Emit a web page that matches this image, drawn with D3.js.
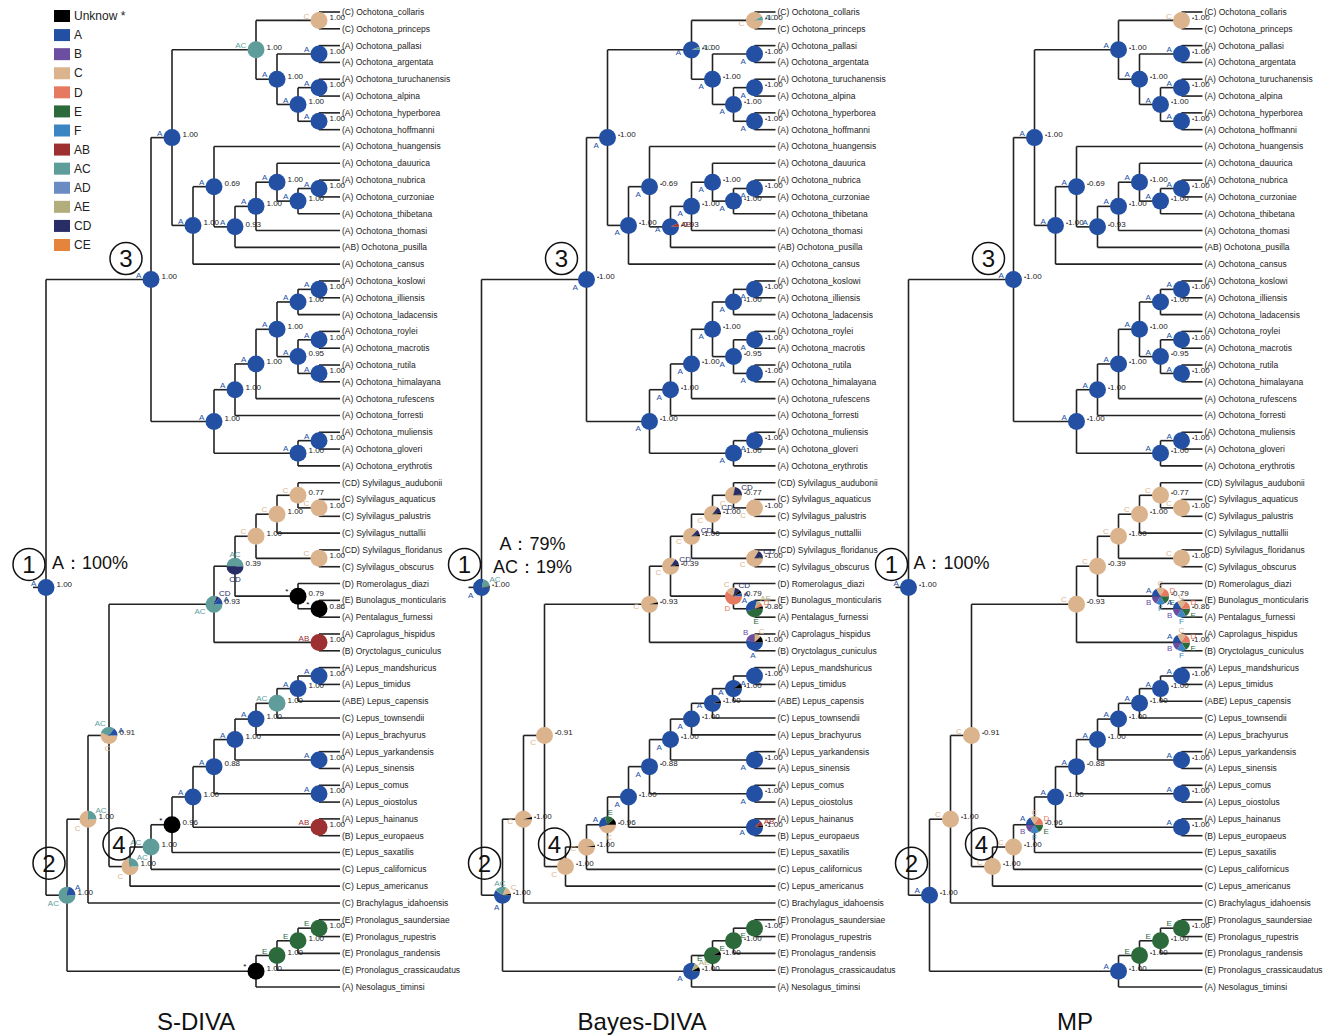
<!DOCTYPE html>
<html>
<head>
<meta charset="utf-8">
<script src="https://cdn.jsdelivr.net/npm/d3@7"></script>
<style>
  body { margin: 0; background: #fff; }
  svg { font-family: "Liberation Sans", Arial, sans-serif; }
</style>
</head>
<body>
<svg id="chart" width="1328" height="1035"></svg>
<script>
// Tip labels, top to bottom
const tipNames = [
  "Ochotona_collaris","Ochotona_princeps","Ochotona_pallasi","Ochotona_argentata","Ochotona_turuchanensis",
  "Ochotona_alpina","Ochotona_hyperborea","Ochotona_hoffmanni","Ochotona_huangensis","Ochotona_dauurica",
  "Ochotona_nubrica","Ochotona_curzoniae","Ochotona_thibetana","Ochotona_thomasi","Ochotona_pusilla",
  "Ochotona_cansus","Ochotona_koslowi","Ochotona_illiensis","Ochotona_ladacensis","Ochotona_roylei",
  "Ochotona_macrotis","Ochotona_rutila","Ochotona_himalayana","Ochotona_rufescens","Ochotona_forresti",
  "Ochotona_muliensis","Ochotona_gloveri","Ochotona_erythrotis","Sylvilagus_audubonii","Sylvilagus_aquaticus",
  "Sylvilagus_palustris","Sylvilagus_nuttallii","Sylvilagus_floridanus","Sylvilagus_obscurus","Romerolagus_diazi",
  "Bunolagus_monticularis","Pentalagus_furnessi","Caprolagus_hispidus","Oryctolagus_cuniculus","Lepus_mandshuricus",
  "Lepus_timidus","Lepus_capensis","Lepus_townsendii","Lepus_brachyurus","Lepus_yarkandensis",
  "Lepus_sinensis","Lepus_comus","Lepus_oiostolus","Lepus_hainanus","Lepus_europaeus",
  "Lepus_saxatilis","Lepus_californicus","Lepus_americanus","Brachylagus_idahoensis","Pronolagus_saundersiae",
  "Pronolagus_rupestris","Pronolagus_randensis","Pronolagus_crassicaudatus","Nesolagus_timinsi"
];
const tipAreas = [
  "C","C","A","A","A","A","A","A","A","A",
  "A","A","A","A","AB","A","A","A","A","A",
  "A","A","A","A","A","A","A","A","CD","C",
  "C","C","CD","C","D","E","A","A","B","A",
  "A","ABE","C","A","A","A","A","A","A","B",
  "E","C","C","C","E","E","E","E","A"
];

// Topology: [nodeId, child, child]; numbers are tip indices
const tree =
["root",
  ["n3",
    ["n3a",
      ["nAC", ["nCol", 0, 1], ["nA2", ["nPal", 2, 3], ["nTur2", ["nTur", 4, 5], ["nHyp", 6, 7]]]],
      ["nb", ["nHua", 8, ["n235", ["n256", ["n277", 9, ["n299", ["nNub", 10, 11], 12]], 13], 14]], 15]],
    ["n3b",
      ["nKos4", ["n257b", ["n277b", ["n299a", ["nKos", 16, 17], 18], ["n299b", ["nRoy", 19, 20], ["nRut", 21, 22]]], 23], 24],
      ["nMul3", ["nMul", 25, 26], 27]]],
  ["n2",
    ["n88",
      ["n110",
        ["n214",
          ["n235s", ["n257s", ["n277s", ["n299s", 28, ["nAqu", 29, 30]], 31], ["nFlo", 32, 33]], ["nRom", 34, ["nBun", 35, 36]]],
          ["nCap", 37, 38]],
        ["n130", ["n4", ["nBlk", ["n193L", ["n214L", ["n235L", ["n257L", ["n277L", ["n299L", ["nMan", 39, 40], 41], 42], 43], ["nYar", 44, 45]], ["nCom", 46, 47]], ["nHai", 48, 49]], 50], 51], 52]],
      53],
    ["nPro", ["n277P", ["n299P", ["nSau", 54, 55], 56], 57], 58]]];

const nodeIds = [
  "root","n3","n3a","nAC","nCol","nA2","nPal","nTur2","nTur","nHyp",
  "nb","nHua","n235","n256","n277","n299","nNub",
  "n3b","nKos4","n257b","n277b","n299a","nKos","n299b","nRoy","nRut","nMul3","nMul",
  "n2","n88","n110","n214","n235s","n257s","n277s","n299s","nAqu","nFlo","nRom","nBun","nCap",
  "n130","n4","nBlk","n193L","n214L","n235L","n257L","n277L","n299L","nMan","nYar","nCom","nHai",
  "nPro","n277P","n299P","nSau"
];
const nodeSupport = [
  1.00,1.00,1.00,1.00,1.00,1.00,1.00,1.00,1.00,1.00,
  1.00,0.69,0.93,1.00,1.00,1.00,1.00,
  1.00,1.00,1.00,1.00,1.00,1.00,0.95,1.00,1.00,1.00,1.00,
  1.00,1.00,0.91,0.93,0.39,1.00,1.00,0.77,1.00,1.00,0.79,0.86,1.00,
  1.00,1.00,0.96,1.00,0.88,1.00,1.00,1.00,1.00,1.00,1.00,1.00,1.00,
  1.00,1.00,1.00,1.00
];

// Ancestral area pies per method ("*" = unknown), same order as nodeIds
const sdivaAreas = [
  "A","A","A","AC","C","A","A","A","A","A",
  "A","A","A","A","A","A","A",
  "A","A","A","A","A","A","A","A","A","A","A",
  "AC:.78 A:.22","C:.75 AC:.25","C:.55 AC:.3 A:.15","AC:.8 CD:.06 A:.14","CD:.5 AC:.5","C","C","C","C","C","*","*","AB",
  "C:.72 AC:.28","AC","*","A","A","A","A","AC","A","A","A","A","AB",
  "*","E","E","E"
];
const bayesAreas = [
  "A:.79 AC:.19 *:.02","A","A","A:.94 AC:.06","C:.92 AC:.08","A","A","A","A","A",
  "A","A","A:.93 AB:.07","A","A","A","A",
  "A","A","A","A","A","A","A","A","A","A","A",
  "A:.6 AC:.22 C:.15 *:.03","C:.96 *:.04","C","C:.96 *:.04","C:.85 CD:.12 *:.03","C:.87 CD:.1 *:.03","C:.85 CD:.12 *:.03","C:.78 CD:.2 *:.02","C","C:.83 CD:.15 *:.02",
  "D:.6 C:.18 CD:.1 *:.06 A:.06","E:.45 A:.35 AE:.08 D:.07 *:.05","A:.55 B:.2 C:.13 *:.12",
  "C","C:.97 *:.03","C:.45 A:.25 E:.18 *:.12","A","A","A","A","A:.95 *:.05","A:.9 *:.1","A","A","A","A:.88 AB:.08 *:.04",
  "A:.82 AE:.1 *:.08","E:.92 *:.08","E","E"
];
const mpAreas = [
  "A","A","A","A","C","A","A","A","A","A",
  "A","A","A","A","A","A","A",
  "A","A","A","A","A","A","A","A","A","A","A",
  "A","C","C","C","C","C","C","C","C","C",
  "E:1 F:1 B:1 A:1 C:1 D:1","E:1 F:1 B:1 A:1 C:1 D:1","E:1 F:1 B:1 A:1 C:1 D:1",
  "C","C","E:1 F:1 B:1 A:1 C:1 D:1","A","A","A","A","A","A","A","A","A","A",
  "A","E","E","E"
];

const areaKeys = ["*","A","B","C","D","E","F","AB","AC","AD","AE","CD","CE"];
const legendLabels = ["Unknow *","A","B","C","D","E","F","AB","AC","AD","AE","CD","CE"];
const areaColors = ["#000000","#2350a2","#6b4e9f","#dbb48d","#e67a60","#2c6a3c","#3c85c3","#9d3031","#5e9d9a","#6b8bc4","#b2ad7c","#282d66","#e7843b"];

const methodTitles = ["S-DIVA", "Bayes-DIVA", "MP"];
const rootTexts = [["A：100%"], ["A：79%", "AC：19%"], ["A：100%"]];

// ---------------------------------------------------------------
const svg = d3.select("#chart");
const color = d3.scaleOrdinal().domain(areaKeys).range(areaColors);
const fmt = d3.format(".2f");

const root = d3.hierarchy(tree, d => Array.isArray(d) ? d.slice(1) : null);
d3.cluster().nodeSize([1, 1]).separation(() => 1)(root);
const leaves = root.leaves();

const yScale = d3.scaleLinear()
  .domain([leaves[0].x, leaves[leaves.length - 1].x])
  .range([12, 987]);
const xScale = d3.scaleLinear()
  .domain([0, root.height])
  .range([46, 340]);

const internals = root.descendants().filter(d => d.children);
const idOf = d => d.data[0];
const byId = new Map(internals.map(d => [idOf(d), d]));

const parseAreas = s => s.split(" ").map(t => {
  const [k, v] = t.split(":");
  return { area: k, value: v === undefined ? 1 : +v };
});

const r = 8.5;
const arc = d3.arc().innerRadius(0).outerRadius(r);
const pie = d3.pie()
  .sort(null)
  .value(d => d.value)
  .startAngle(Math.PI / 2)
  .endAngle(Math.PI / 2 + 2 * Math.PI);

const panels = [
  { dx: 0,     areas: sdivaAreas, bullet: false, labelAngle: 292, titleX: 196, rootTextX: 90 },
  { dx: 435.5, areas: bayesAreas, bullet: true,  labelAngle: 235, titleX: 642, rootTextX: 97 },
  { dx: 862.5, areas: mpAreas,    bullet: true,  labelAngle: 292, titleX: 1075, rootTextX: 89 }
];

panels.forEach((p, pi) => {
  const g = svg.append("g").attr("transform", `translate(${p.dx},0)`);
  const X = d => xScale(d.y), Y = d => yScale(d.x);

  // branches
  const lines = g.append("g").attr("stroke", "#222").attr("stroke-width", 1.6).attr("fill", "none");
  internals.forEach(n => {
    const c = n.children;
    lines.append("line")
      .attr("x1", X(n)).attr("x2", X(n))
      .attr("y1", Y(c[0])).attr("y2", Y(c[c.length - 1]));
    c.forEach(ch => {
      lines.append("line")
        .attr("x1", X(n)).attr("x2", X(ch))
        .attr("y1", Y(ch)).attr("y2", Y(ch));
    });
  });
  lines.append("line")
    .attr("x1", X(root) - 13).attr("x2", X(root))
    .attr("y1", Y(root)).attr("y2", Y(root));

  // tip labels
  g.append("g").selectAll("text")
    .data(leaves)
    .join("text")
      .attr("x", d => X(d) + 2)
      .attr("y", d => Y(d))
      .attr("dy", "0.35em")
      .attr("font-size", 8.5)
      .attr("fill", "#222")
      .text(d => `(${tipAreas[d.data]}) ${tipNames[d.data]}`);

  // pies
  const pieG = g.append("g");
  nodeIds.forEach((id, i) => {
    const n = byId.get(id);
    const slices = pie(parseAreas(p.areas[i]));
    const ng = pieG.append("g").attr("transform", `translate(${X(n)},${Y(n)})`);
    ng.selectAll("path")
      .data(slices)
      .join("path")
        .attr("d", arc)
        .attr("fill", d => color(d.data.area));

    // area labels
    slices.forEach(s => {
      if (s.data.area === "*" && slices.length > 1) return;
      const frac = (s.endAngle - s.startAngle) / (2 * Math.PI);
      if (frac < 0.05) return;
      const a = slices.length === 1 ? p.labelAngle * Math.PI / 180 : (s.startAngle + s.endAngle) / 2;
      const sx = Math.sin(a), sy = -Math.cos(a);
      ng.append("text")
        .attr("x", sx * (r + 2))
        .attr("y", sy * (r + 4))
        .attr("dy", "0.35em")
        .attr("text-anchor", sx < -0.3 ? "end" : sx > 0.3 ? "start" : "middle")
        .attr("font-size", 8)
        .attr("fill", color(s.data.area))
        .text(s.data.area);
    });

    // support value
    const t = ng.append("text")
      .attr("x", r + 2)
      .attr("y", -3)
      .attr("dy", "0.35em")
      .attr("font-size", 8)
      .attr("fill", "#222");
    if (p.bullet) t.append("tspan").attr("font-size", 6).text("•");
    t.append("tspan").text(fmt(nodeSupport[i]));
  });

  // circled node numbers
  const marks = [["1", "root", -17, -23], ["2", "n2", -18, -32], ["3", "n3", -25, -21], ["4", "n4", -32, -3]];
  marks.forEach(([num, id, ox, oy]) => {
    const n = byId.get(id);
    g.append("circle")
      .attr("cx", X(n) + ox).attr("cy", Y(n) + oy).attr("r", 16)
      .attr("fill", "none").attr("stroke", "#111").attr("stroke-width", 1.5);
    g.append("text")
      .attr("x", X(n) + ox).attr("y", Y(n) + oy)
      .attr("dy", "0.36em")
      .attr("text-anchor", "middle")
      .attr("font-size", 24)
      .attr("fill", "#111")
      .text(num);
  });

  // root area probability text
  const rt = rootTexts[pi];
  const rootY = Y(root);
  rt.forEach((s, k) => {
    g.append("text")
      .attr("x", p.rootTextX)
      .attr("y", rt.length === 1 ? rootY - 25 : rootY - 44 + k * 23)
      .attr("dy", "0.35em")
      .attr("text-anchor", "middle")
      .attr("font-size", 18)
      .attr("fill", "#111")
      .text(s);
  });

  // panel title
  svg.append("text")
    .attr("x", p.titleX)
    .attr("y", 1030)
    .attr("text-anchor", "middle")
    .attr("font-size", 24)
    .attr("fill", "#111")
    .text(methodTitles[pi]);
});

// legend
const legendY = d3.scaleLinear().domain([0, areaKeys.length - 1]).range([16, 245]);
const legend = svg.append("g");
areaKeys.forEach((k, i) => {
  legend.append("rect")
    .attr("x", 54).attr("y", legendY(i) - 6)
    .attr("width", 16).attr("height", 12)
    .attr("fill", color(k));
  legend.append("text")
    .attr("x", 74).attr("y", legendY(i))
    .attr("dy", "0.35em")
    .attr("font-size", 12)
    .attr("fill", "#222")
    .text(legendLabels[i]);
});
</script>
</body>
</html>
